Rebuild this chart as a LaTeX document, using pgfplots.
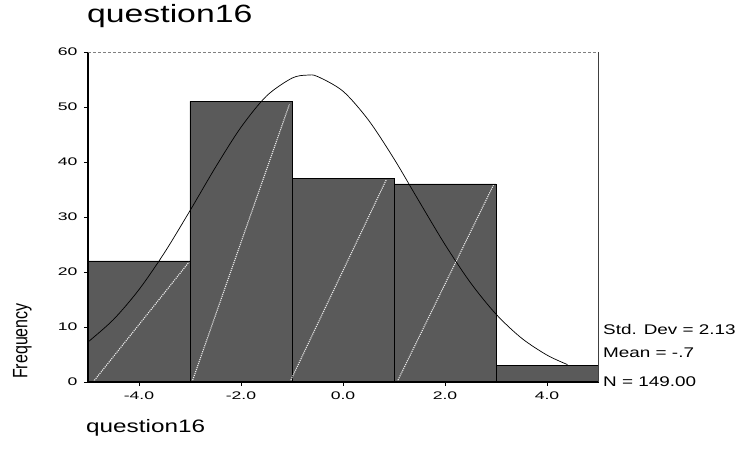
\documentclass[border=0pt]{standalone}
\usepackage{pgfplots}
\pgfplotsset{compat=1.18}
\usepackage{fontspec}
\setmainfont{Liberation Sans}
\newfontfamily\widefont[FakeStretch=1.35]{Liberation Sans}
\newfontfamily\tickfont[FakeStretch=1.6]{Liberation Sans}
\definecolor{barfill}{HTML}{5A5A5A}
\begin{document}
\begin{tikzpicture}
\useasboundingbox (-88pt,-67pt) rectangle (652pt,382pt);
\begin{axis}[
  at={(0pt,0pt)}, anchor=south west,
  scale only axis, width=510pt, height=330pt,
  xmin=-5, xmax=5, ymin=0, ymax=60,
  xtick={-4,-2,0,2,4},
  xticklabels={-4.0,-2.0,0.0,2.0,4.0},
  ytick={0,10,20,30,40,50,60},
  /pgf/number format/assume math mode=true,
  tick align=outside, major tick length=4pt,
  xtick pos=lower, ytick pos=left,
  tick style={black, line width=0.6pt},
  ticklabel style={font=\tickfont\fontsize{11}{13}\selectfont},
  yticklabel style={xshift=-3pt},
  xticklabel style={yshift=-2pt},
  axis line style={draw=none},
  clip=false,
]
\addplot[ybar interval, fill=barfill, draw=black, line width=0.9pt]
  coordinates {(-5,22) (-3,51) (-1,37) (1,36) (3,3) (5,3)};
% scan artefact dotted lines
\addplot[white!85!gray, densely dotted, line width=1.1pt] coordinates {(-4.9,0) (-3.02,21.8)};
\addplot[white!85!gray, densely dotted, line width=1.1pt] coordinates {(-2.96,0) (-1.05,50.5)};
\addplot[white!85!gray, densely dotted, line width=1.1pt] coordinates {(-1.04,0) (0.85,36.8)};
\addplot[white!85!gray, densely dotted, line width=1.1pt] coordinates {(1.06,0) (2.95,35.8)};
% normal curve
\addplot[black, line width=0.7pt, smooth] coordinates {
 (-5,7.27) (-4.5,11.36) (-4,16.80) (-3.5,23.52) (-3,31.15) (-2.5,39.04)
 (-2,46.32) (-1.5,52.00) (-1,55.25) (-0.7,55.8) (-0.5,55.55) (0,52.87)
 (0.5,47.61) (1,40.58) (1.5,32.73) (2,24.99) (2.5,18.05) (3,12.34)
 (3.5,7.98) (4,4.89) (4.4,3.17)};
\draw[black, line width=1.1pt] (rel axis cs:0,1) -- (rel axis cs:0,0) -- (rel axis cs:1,0);
\draw[black!75, line width=0.9pt] (rel axis cs:1,0) -- (rel axis cs:1,1);
\draw[gray, densely dashed, line width=0.6pt] (rel axis cs:0,1) -- (rel axis cs:1,1);
\end{axis}
\node[anchor=base west, inner sep=0pt, font=\widefont\fontsize{25}{28}\selectfont] at (-1pt,359pt) {question16};
\node[anchor=base west, inner sep=0pt, font=\widefont\fontsize{18}{20}\selectfont] at (-2pt,-51pt) {question16};
\node[inner sep=0pt] at (-65.5pt,41pt) {\scalebox{1.3}[1]{\rotatebox{90}{\fontsize{16}{18}\selectfont Frequency}}};
\node[anchor=base west, inner sep=0pt, font=\widefont\fontsize{14}{16}\selectfont] at (515pt,47pt) {Std. Dev = 2.13};
\node[anchor=base west, inner sep=0pt, font=\widefont\fontsize{14}{16}\selectfont] at (515pt,24pt) {Mean = -.7};
\node[anchor=base west, inner sep=0pt, font=\widefont\fontsize{14}{16}\selectfont] at (515pt,-5pt) {N = 149.00};
\end{tikzpicture}
\end{document}
